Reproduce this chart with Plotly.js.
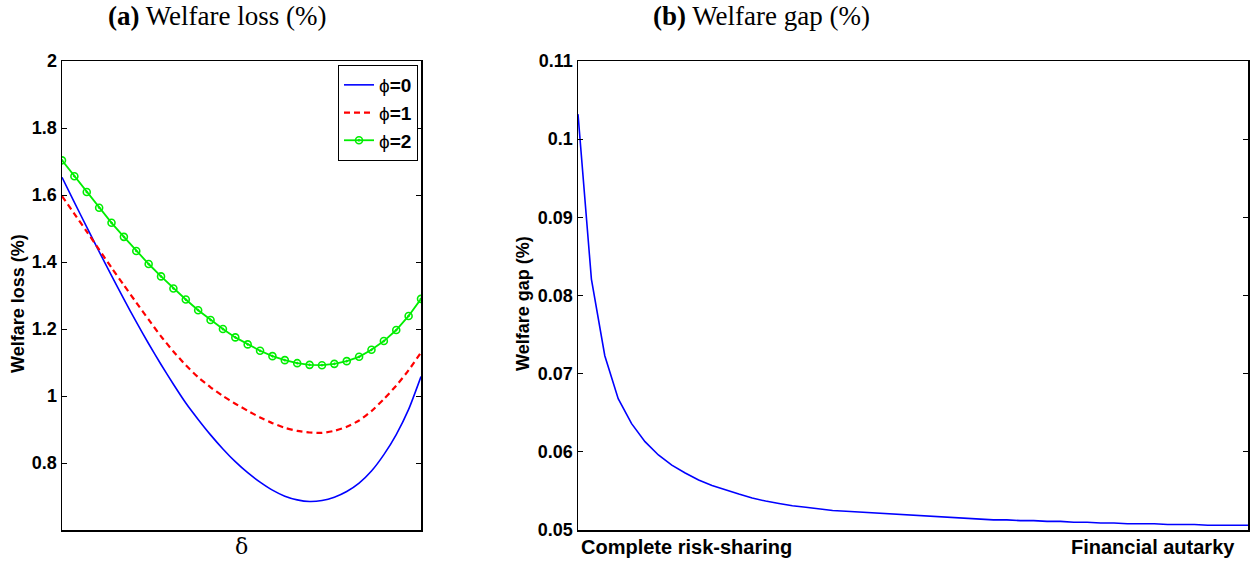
<!DOCTYPE html>
<html>
<head>
<meta charset="utf-8">
<script src="https://cdn.plot.ly/plotly-3.0.1.min.js"></script>
<style>
  html, body { margin: 0; padding: 0; background: #fff; }
  #chart { width: 1254px; height: 563px; }
</style>
</head>
<body>
<div id="chart"></div>
<script>
// ---- Data ----
// Panel (a): welfare loss (%) against delta, 30 grid points
const delta = [1,2,3,4,5,6,7,8,9,10,11,12,13,14,15,16,17,18,19,20,21,22,23,24,25,26,27,28,29,30];
const lossPhi0 = [1.653,1.578,1.504,1.431,1.359,1.289,1.221,1.156,1.094,1.035,0.979,0.930,0.884,0.842,0.804,0.771,0.743,0.719,0.701,0.690,0.685,0.688,0.698,0.715,0.740,0.776,0.825,0.885,0.960,1.058];
const lossPhi1 = [1.597,1.544,1.491,1.437,1.383,1.331,1.279,1.228,1.178,1.133,1.092,1.056,1.026,1.000,0.977,0.956,0.936,0.919,0.905,0.896,0.891,0.890,0.896,0.908,0.927,0.955,0.991,1.031,1.077,1.130];
const lossPhi2 = [1.7035,1.656,1.609,1.562,1.517,1.475,1.433,1.394,1.357,1.321,1.288,1.256,1.227,1.200,1.175,1.154,1.135,1.119,1.107,1.098,1.093,1.092,1.096,1.104,1.117,1.138,1.164,1.197,1.239,1.290];
const seriesNames = ['ϕ<b>=0</b>', 'ϕ<b>=1</b>', 'ϕ<b>=2</b>'];
const lossTicks = [0.8, 1, 1.2, 1.4, 1.6, 1.8, 2];
const lossTickText = ['0.8', '1', '1.2', '1.4', '1.6', '1.8', '2'];

// Panel (b): welfare gap (%) from complete risk-sharing to financial autarky, 51 points
const gapIndex = [1,2,3,4,5,6,7,8,9,10,11,12,13,14,15,16,17,18,19,20,21,22,23,24,25,26,27,28,29,30,31,32,33,34,35,36,37,38,39,40,41,42,43,44,45,46,47,48,49,50,51];
const welfareGap = [0.1032,0.0821,0.0723,0.0668,0.0636,0.0613,0.0596,0.0583,0.0573,0.0564,0.0557,0.0551,0.0546,0.0541,0.0537,0.0534,0.0531,0.0529,0.0527,0.0525,0.0524,0.0523,0.0522,0.0521,0.0520,0.0519,0.0518,0.0517,0.0516,0.0515,0.0514,0.0513,0.0513,0.0512,0.0512,0.0511,0.0511,0.0510,0.0510,0.0509,0.0509,0.0508,0.0508,0.0508,0.0507,0.0507,0.0507,0.0506,0.0506,0.0506,0.0506];
const gapTicks = [0.05, 0.06, 0.07, 0.08, 0.09, 0.1, 0.11];
const gapTickText = ['0.05', '0.06', '0.07', '0.08', '0.09', '0.1', '0.11'];
const gapEndLabels = ['Complete risk-sharing', 'Financial autarky'];

const panelTitles = ['<b>(a)</b> Welfare loss (%)', '<b>(b)</b> Welfare gap (%)'];
const yTitles = ['Welfare loss (%)', 'Welfare gap (%)'];
const xTitleA = 'δ';

// ---- Layout helpers (pixels -> paper) ----
const W = 1254, H = 563;
const px = v => v / W;
const py = v => (H - v) / H;
const bold = s => '<b>' + s + '</b>';

const sans = 'Liberation Sans, Arial, Helvetica, sans-serif';
const serif = 'Liberation Serif, Times New Roman, serif';
const tickFont = { family: sans, size: 18, color: '#000' };

const traces = [
  { x: delta, y: lossPhi0, name: seriesNames[0], type: 'scatter', mode: 'lines',
    line: { color: '#0000ff', width: 1.6, shape: 'spline', smoothing: 0.6 }, xaxis: 'x', yaxis: 'y' },
  { x: delta, y: lossPhi1, name: seriesNames[1], type: 'scatter', mode: 'lines',
    line: { color: '#ff0000', width: 2.2, dash: '6px,4px', shape: 'spline', smoothing: 0.6 }, xaxis: 'x', yaxis: 'y' },
  { x: delta, y: lossPhi2, name: seriesNames[2], type: 'scatter', mode: 'lines+markers',
    line: { color: '#00ee00', width: 1.8 },
    marker: { symbol: 'circle-open-dot', size: 7, color: '#00ee00', line: { width: 1.6, color: '#00ee00' } },
    xaxis: 'x', yaxis: 'y' },
  { x: gapIndex, y: welfareGap, name: 'Welfare gap', type: 'scatter', mode: 'lines',
    line: { color: '#0000ff', width: 1.6 }, xaxis: 'x2', yaxis: 'y2', showlegend: false }
];

const axisCommon = {
  showline: true, linecolor: '#000', linewidth: 1.5, mirror: 'ticks',
  showgrid: false, zeroline: false, ticks: 'inside', ticklen: 5, tickcolor: '#000', tickwidth: 1
};

const layout = {
  width: W, height: H,
  margin: { l: 0, r: 0, t: 0, b: 0 },
  paper_bgcolor: '#fff', plot_bgcolor: '#fff',
  showlegend: true,
  legend: {
    x: px(418), xanchor: 'right', y: py(65), yanchor: 'top',
    bgcolor: '#fff', bordercolor: '#000', borderwidth: 1,
    font: { family: sans, size: 19, color: '#000' },
    tracegroupgap: 0, itemwidth: 30
  },
  xaxis: Object.assign({}, axisCommon, {
    domain: [px(62), px(421)], range: [1, 30], showticklabels: false, ticks: '', anchor: 'y'
  }),
  yaxis: Object.assign({}, axisCommon, {
    domain: [py(530), py(61)], range: [0.6, 2], tickvals: lossTicks, ticktext: lossTickText.map(bold),
    tickfont: tickFont, anchor: 'x'
  }),
  xaxis2: Object.assign({}, axisCommon, {
    domain: [px(578), px(1248)], range: [1, 51], showticklabels: false, ticks: '', anchor: 'y2'
  }),
  yaxis2: Object.assign({}, axisCommon, {
    domain: [py(530), py(61)], range: [0.05, 0.11], tickvals: gapTicks, ticktext: gapTickText.map(bold),
    tickfont: tickFont, anchor: 'x2'
  }),
  annotations: [
    { text: panelTitles[0], xref: 'paper', yref: 'paper', x: px(217), y: py(16), xanchor: 'center', yanchor: 'middle',
      showarrow: false, font: { family: serif, size: 27, color: '#000' } },
    { text: panelTitles[1], xref: 'paper', yref: 'paper', x: px(761), y: py(16), xanchor: 'center', yanchor: 'middle',
      showarrow: false, font: { family: serif, size: 27, color: '#000' } },
    { text: bold(yTitles[0]), xref: 'paper', yref: 'paper', x: px(18), y: py(304), xanchor: 'center', yanchor: 'middle',
      textangle: -90, showarrow: false, font: { family: sans, size: 18, color: '#000' } },
    { text: bold(yTitles[1]), xref: 'paper', yref: 'paper', x: px(523), y: py(304), xanchor: 'center', yanchor: 'middle',
      textangle: -90, showarrow: false, font: { family: sans, size: 18, color: '#000' } },
    { text: xTitleA, xref: 'paper', yref: 'paper', x: px(241), y: py(546), xanchor: 'center', yanchor: 'middle',
      showarrow: false, font: { family: 'DejaVu Serif, serif', size: 22, color: '#000' } },
    { text: bold(gapEndLabels[0]), xref: 'paper', yref: 'paper', x: px(579), y: py(547), xanchor: 'left', yanchor: 'middle',
      showarrow: false, font: { family: sans, size: 20, color: '#000' } },
    { text: bold(gapEndLabels[1]), xref: 'paper', yref: 'paper', x: px(1237), y: py(547), xanchor: 'right', yanchor: 'middle',
      showarrow: false, font: { family: sans, size: 20, color: '#000' } }
  ]
};

Plotly.newPlot('chart', traces, layout, { displayModeBar: false, staticPlot: true });
</script>
</body>
</html>
